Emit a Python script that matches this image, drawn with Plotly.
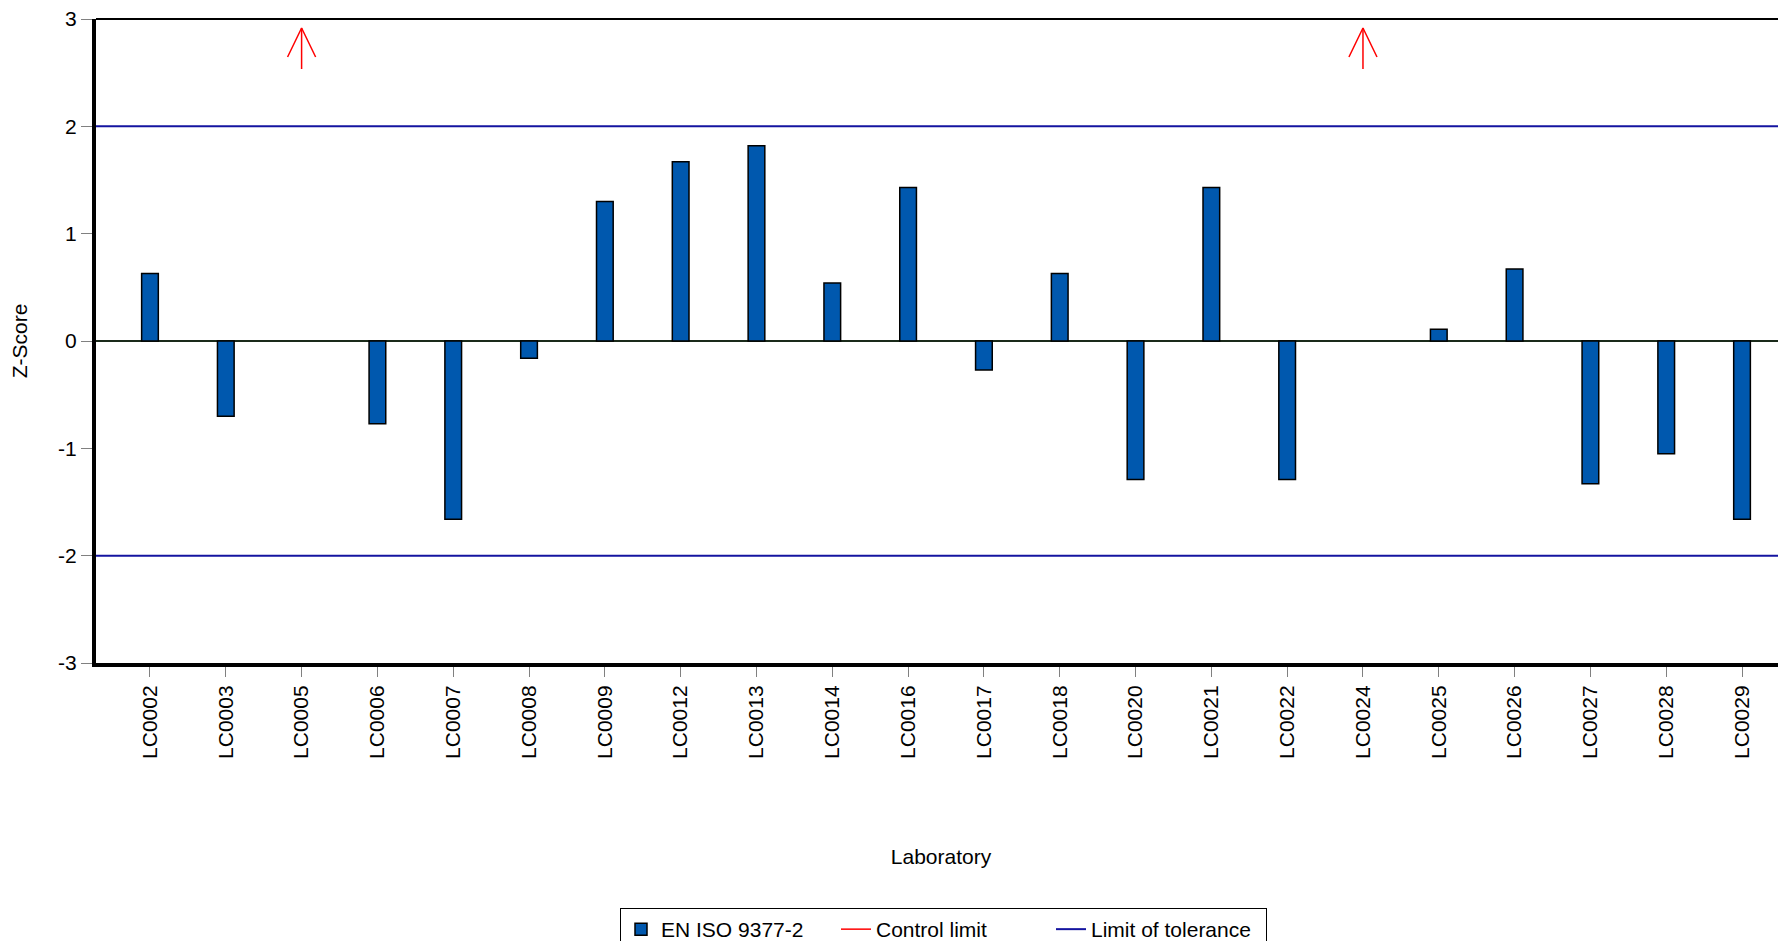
import plotly.graph_objects as go

# ---- data ----
labs = ["LC0002", "LC0003", "LC0005", "LC0006", "LC0007", "LC0008", "LC0009",
        "LC0012", "LC0013", "LC0014", "LC0016", "LC0017", "LC0018", "LC0020",
        "LC0021", "LC0022", "LC0024", "LC0025", "LC0026", "LC0027", "LC0028",
        "LC0029"]
z_scores = [0.63, -0.70, None, -0.77, -1.66, -0.16, 1.30,
            1.67, 1.82, 0.54, 1.43, -0.27, 0.63, -1.29,
            1.43, -1.29, None, 0.11, 0.67, -1.33, -1.05,
            -1.66]
above_range = ["LC0005", "LC0024"]   # z-score above the displayed range (arrow)
tolerance_limit = 2.0
series_name = "EN ISO 9377-2"
y_ticks = [-3, -2, -1, 0, 1, 2, 3]
y_tick_text = ["-3", "-2", "-1", "0", "1", "2", "3"]

# ---- layout constants (page body has an 8px default margin) ----
OFF = 8
W, H = 1786 - OFF, 941 - OFF
ML, MR, MT, MB = 96 - OFF, 0, 19 - OFF, 278
X_RANGE = [-0.712, 21.58]
Y_RANGE = [-3, 3]
FONT = "Liberation Sans, Arial, sans-serif"
FS = 21

x_idx = list(range(len(labs)))

fig = go.Figure()

fig.add_trace(go.Bar(
    x=x_idx, y=z_scores, width=0.22, name=series_name,
    marker=dict(color="#0058AE", line=dict(color="black", width=1.5)),
))

# control-limit arrows (values above displayed range)
ax_, ay_ = [], []
tail, tip, wing_y, wing_dx = 2.534, 2.916, 2.646, 0.185
for lab in above_range:
    i = labs.index(lab)
    ax_ += [i, i, None, i - wing_dx, i, i + wing_dx, None]
    ay_ += [tail, tip, None, wing_y, tip, wing_y, None]
fig.add_trace(go.Scatter(
    x=ax_, y=ay_, mode="lines", name="Control limit",
    line=dict(color="#FF0000", width=1.5),
))

# tolerance limits
fig.add_trace(go.Scatter(
    x=[X_RANGE[0], X_RANGE[1] + 1, None, X_RANGE[0], X_RANGE[1] + 1],
    y=[tolerance_limit, tolerance_limit, None, -tolerance_limit, -tolerance_limit],
    mode="lines", name="Limit of tolerance",
    line=dict(color="#1414A0", width=2),
))

plot_h = H - MT - MB
fig.update_layout(
    width=W, height=H,
    margin=dict(l=ML, r=MR, t=MT, b=MB, pad=0, autoexpand=False),
    paper_bgcolor="white", plot_bgcolor="white",
    font=dict(family=FONT, size=FS, color="black"),
    showlegend=True,
    legend=dict(
        orientation="h", x=(620 - 96) / (W - ML), xanchor="left",
        y=-(908 - 663) / plot_h, yanchor="top",
        bordercolor="black", borderwidth=1, bgcolor="white",
        font=dict(family=FONT, size=FS), entrywidth=170,
        traceorder="normal",
    ),
    shapes=[dict(type="line", xref="paper", yref="paper", x0=0, x1=1, y0=1, y1=1,
                 line=dict(color="black", width=2))],
)

fig.update_xaxes(
    range=X_RANGE, tickmode="array", tickvals=x_idx, ticktext=labs,
    tickangle=-90, ticks="outside", ticklen=10, tickcolor="#808080", tickwidth=1,
    showline=True, linecolor="black", linewidth=4, showgrid=False, zeroline=False,
    tickfont=dict(family=FONT, size=FS), automargin=False,
    title=dict(text="Laboratory", font=dict(family=FONT, size=FS), standoff=92),
)
fig.update_yaxes(
    range=Y_RANGE, tickmode="array", tickvals=y_ticks, ticktext=y_tick_text,
    ticks="outside", ticklen=11, tickcolor="#808080", tickwidth=1,
    showline=True, linecolor="black", linewidth=4, showgrid=False,
    zeroline=True, zerolinecolor="#1a2a1a", zerolinewidth=1.5,
    tickfont=dict(family=FONT, size=FS), automargin=False,
    ticklabeloverflow="allow",
    title=dict(text="Z-Score", font=dict(family=FONT, size=FS), standoff=30),
)

fig.write_html("out.html")
